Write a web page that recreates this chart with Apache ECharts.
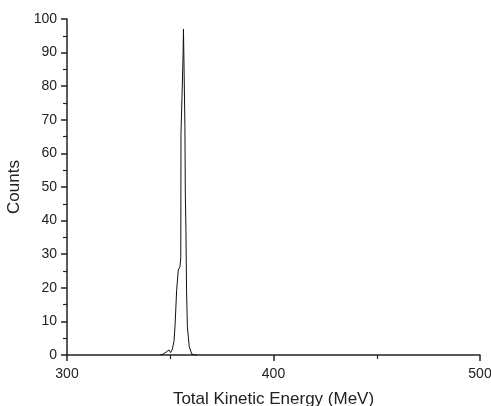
<!DOCTYPE html>
<html><head><meta charset="utf-8">
<script src="https://cdn.jsdelivr.net/npm/echarts@6/dist/echarts.min.js"></script>
<style>html,body{margin:0;padding:0;background:#fff}#c{width:491px;height:406px}</style>
</head><body><div id="c"></div>
<script>
var energies = [345.0, 346.6, 348.3, 349.4, 350.2, 351.0, 351.8, 352.3, 353.1, 353.9, 354.7, 355.1, 355.2, 355.7, 356.2, 356.4, 356.7, 357.1, 357.3, 357.6, 357.9, 358.3, 359.2, 360.4, 361.2, 362.0, 363.0];
var counts   = [0,     0.3,   1.0,   1.5,   0.7,   1.7,   4.0,   8.4,   19.3,  25.3,  26.3,  29,    66,    77,    89,    97,    85,    68,    48,    37,    19,    8.4,   2.5,   0.3,   0.7,   0,     0];
var xTicks = [300, 400, 500];
var yTicks = [0,10,20,30,40,50,60,70,80,90,100];

var pts = energies.map(function(e,i){return [e, counts[i]];});
var chart = echarts.init(document.getElementById('c'));
var font = 'Liberation Sans, Arial, sans-serif';
chart.setOption({
  animation:false,
  grid:{left:67,right:11,top:19,bottom:51,outerBoundsMode:'none',containLabel:false},
  xAxis:{type:'value',min:xTicks[0],max:xTicks[xTicks.length-1],interval:100,
    name:'Total Kinetic Energy (MeV)',nameLocation:'middle',nameGap:36,
    nameTextStyle:{fontFamily:font,fontSize:17,color:'#222'},
    axisLine:{lineStyle:{color:'#222',width:1.5}},
    axisTick:{show:true,inside:false,length:6,lineStyle:{color:'#222',width:1.5}},
    minorTick:{show:true,splitNumber:2,length:4,lineStyle:{color:'#222',width:1.2}},
    axisLabel:{fontFamily:font,fontSize:14,color:'#222',margin:12},
    splitLine:{show:false}},
  yAxis:{type:'value',min:yTicks[0],max:yTicks[yTicks.length-1],interval:10,
    name:'Counts',nameLocation:'middle',nameGap:40,nameRotate:90,
    nameTextStyle:{fontFamily:font,fontSize:17,color:'#222'},
    axisLine:{show:true,lineStyle:{color:'#222',width:1.5}},
    axisTick:{show:true,inside:false,length:6,lineStyle:{color:'#222',width:1.5}},
    minorTick:{show:true,splitNumber:2,length:4,lineStyle:{color:'#222',width:1.2}},
    axisLabel:{fontFamily:font,fontSize:14,color:'#222',margin:10},
    splitLine:{show:false}},
  series:[{type:'line',data:pts,showSymbol:false,symbol:'none',
    lineStyle:{color:'#111',width:1},z:1}]
});
</script></body></html>
